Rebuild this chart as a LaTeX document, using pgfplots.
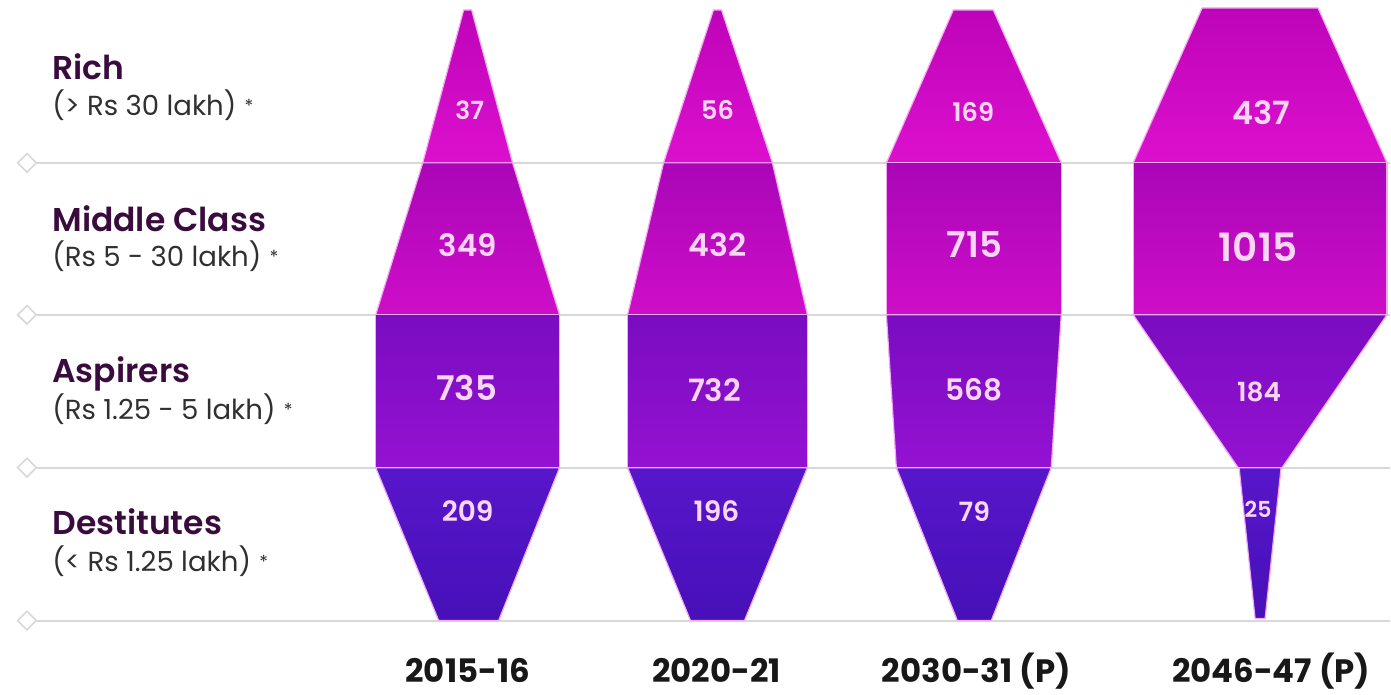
\documentclass[border=0pt]{standalone}
\usepackage{fontspec}
\setmainfont{Poppins}
\newfontfamily\psemi{Poppins SemiBold}
\usepackage{pgfplots}
\pgfplotsset{compat=1.18}

\definecolor{gridgray}{RGB}{216,216,216}
\definecolor{titlecol}{RGB}{58,12,62}
\definecolor{subcol}{RGB}{48,48,48}
\definecolor{yearcol}{RGB}{24,24,24}
\definecolor{numcol}{RGB}{250,214,246}
\definecolor{edgecol}{RGB}{242,170,240}
\definecolor{richtop}{RGB}{190,4,184}
\definecolor{richbot}{RGB}{220,16,206}
\definecolor{midtop}{RGB}{170,6,184}
\definecolor{midbot}{RGB}{206,14,200}
\definecolor{asptop}{RGB}{122,12,192}
\definecolor{aspbot}{RGB}{148,18,210}
\definecolor{destop}{RGB}{88,22,202}
\definecolor{desbot}{RGB}{70,16,184}

\pgfplotsset{
  rich/.style={draw=edgecol, line width=0.6pt, top color=richtop, bottom color=richbot},
  mid/.style={draw=edgecol, line width=0.6pt, top color=midtop, bottom color=midbot},
  asp/.style={draw=edgecol, line width=0.6pt, top color=asptop, bottom color=aspbot},
  des/.style={draw=edgecol, line width=0.6pt, top color=destop, bottom color=desbot},
}
\newcommand{\incnote}{\hspace{0.3em}{\fontsize{9}{10}\selectfont\raisebox{1.5pt}{*}}}

\begin{document}
\begin{tikzpicture}
\begin{axis}[
    x=0.5pt, y=0.5pt,
    xmin=0, xmax=1391, ymin=0, ymax=695,
    y dir=reverse,
    hide axis,
    clip=false,
]
% frame of the picture
\addplot[draw=none] coordinates {(0,0) (1391,695)};

% level lines with diamonds
\addplot[gridgray, line width=1pt] coordinates {(37,163) (1391,163)};
\addplot[gridgray, line width=1pt] coordinates {(37,315) (1391,315)};
\addplot[gridgray, line width=1pt] coordinates {(37,468) (1391,468)};
\addplot[gridgray, line width=1pt] coordinates {(37,621) (1391,621)};
\addplot[only marks, mark=square*, mark size=3.3pt,
  mark options={rotate=45, draw=gridgray, fill=white, line width=0.8pt}]
  coordinates {(27,163) (27,315) (27,468) (27,621)};

% 2015-16
\addplot[rich] coordinates {(464,10) (472,10) (513,163) (423,163)} -- cycle;
\addplot[mid]  coordinates {(423,163) (513,163) (560,315) (376,315)} -- cycle;
\addplot[asp]  coordinates {(376,315) (560,315) (560,468) (376,468)} -- cycle;
\addplot[des]  coordinates {(376,468) (560,468) (499,621) (439,621)} -- cycle;

% 2020-21
\addplot[rich] coordinates {(714,10) (722,10) (773,163) (664,163)} -- cycle;
\addplot[mid]  coordinates {(664,163) (773,163) (808,315) (628,315)} -- cycle;
\addplot[asp]  coordinates {(628,315) (808,315) (808,468) (628,468)} -- cycle;
\addplot[des]  coordinates {(628,468) (808,468) (745,621) (691,621)} -- cycle;

% 2030-31 (P)
\addplot[rich] coordinates {(954,10) (994,10) (1062,163) (887,163)} -- cycle;
\addplot[mid]  coordinates {(887,163) (1062,163) (1062,315) (887,315)} -- cycle;
\addplot[asp]  coordinates {(887,315) (1062,315) (1052,468) (897,468)} -- cycle;
\addplot[des]  coordinates {(897,468) (1052,468) (992,621) (958,621)} -- cycle;

% 2046-47 (P)
\addplot[rich] coordinates {(1203,8) (1319,8) (1388,163) (1134,163)} -- cycle;
\addplot[mid]  coordinates {(1134,163) (1388,163) (1388,315) (1134,315)} -- cycle;
\addplot[asp]  coordinates {(1134,315) (1388,315) (1283,468) (1239,468)} -- cycle;
\addplot[des]  coordinates {(1240,468) (1282,468) (1266,619) (1256,619)} -- cycle;

% values
\begin{scope}[every node/.style={text=numcol, anchor=center, inner sep=0pt}]
\node[font=\psemi\fontsize{12.5}{14}\selectfont] at (axis cs:470,110) {37};
\node[font=\psemi\fontsize{12.8}{14}\selectfont] at (axis cs:718,110) {56};
\node[font=\psemi\fontsize{12.8}{14}\selectfont] at (axis cs:974,112) {169};
\node[font=\psemi\fontsize{16}{18}\selectfont] at (axis cs:1262,113) {437};
\node[font=\psemi\fontsize{15.4}{18}\selectfont] at (axis cs:468,245) {349};
\node[font=\psemi\fontsize{15.8}{18}\selectfont] at (axis cs:718,245) {432};
\node[font=\psemi\fontsize{17.8}{20}\selectfont] at (axis cs:975,245) {715};
\node[font=\psemi\fontsize{19.5}{22}\selectfont] at (axis cs:1259,247) {1015};
\node[font=\psemi\fontsize{17}{20}\selectfont] at (axis cs:467,388) {735};
\node[font=\psemi\fontsize{15.4}{18}\selectfont] at (axis cs:715,390) {732};
\node[font=\psemi\fontsize{14.8}{18}\selectfont] at (axis cs:975,390) {568};
\node[font=\psemi\fontsize{13.2}{16}\selectfont] at (axis cs:1260,392) {184};
\node[font=\psemi\fontsize{14}{16}\selectfont] at (axis cs:468,511) {209};
\node[font=\psemi\fontsize{14}{16}\selectfont] at (axis cs:717,511) {196};
\node[font=\psemi\fontsize{13.3}{16}\selectfont] at (axis cs:975,512) {79};
\node[font=\psemi\fontsize{11}{13}\selectfont] at (axis cs:1259,510) {25};
\end{scope}

% group labels
\begin{scope}[every node/.style={anchor=base west, inner sep=0pt}]
\node[font=\psemi\fontsize{16.5}{18}\selectfont, text=titlecol] at (axis cs:52,80) {Rich};
\node[font=\fontsize{13.8}{16}\selectfont, text=subcol] at (axis cs:52,116) {(> Rs 30 lakh)\incnote};
\node[font=\psemi\fontsize{16.5}{18}\selectfont, text=titlecol] at (axis cs:52,232) {Middle Class};
\node[font=\fontsize{13.8}{16}\selectfont, text=subcol] at (axis cs:52,267) {(Rs 5 - 30 lakh)\incnote};
\node[font=\psemi\fontsize{16.5}{18}\selectfont, text=titlecol] at (axis cs:52,383) {Aspirers};
\node[font=\fontsize{13.8}{16}\selectfont, text=subcol] at (axis cs:52,420) {(Rs 1.25 - 5 lakh)\incnote};
\node[font=\psemi\fontsize{16.5}{18}\selectfont, text=titlecol] at (axis cs:52,535) {Destitutes};
\node[font=\fontsize{13.8}{16}\selectfont, text=subcol] at (axis cs:52,572) {(< Rs 1.25 lakh)\incnote};
\end{scope}

% years
\begin{scope}[every node/.style={anchor=base, inner sep=0pt, text=yearcol,
    font=\bfseries\fontsize{16.2}{18}\selectfont}]
\node at (axis cs:468,683) {2015-16};
\node at (axis cs:717,683) {2020-21};
\node at (axis cs:977,683) {2030-31 (P)};
\node at (axis cs:1272,683) {2046-47 (P)};
\end{scope}
\end{axis}
\end{tikzpicture}
\end{document}
